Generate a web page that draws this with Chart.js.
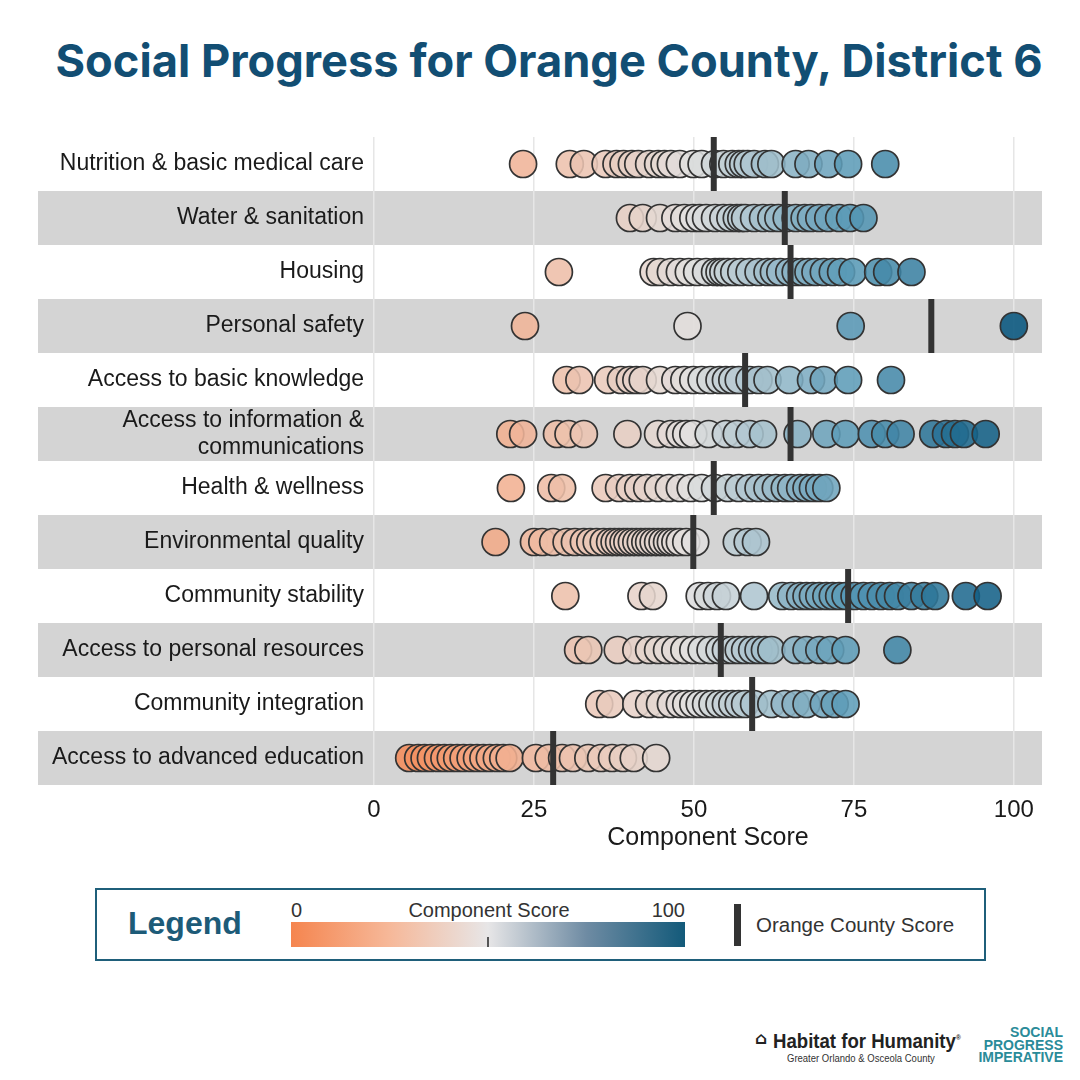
<!DOCTYPE html>
<html>
<head>
<meta charset="utf-8">
<title>Social Progress for Orange County, District 6</title>
<script src="https://cdn.jsdelivr.net/npm/chart.js@4.4.1/dist/chart.umd.min.js"></script>
<style>
  body { margin: 0; width: 1080px; height: 1080px; background: #fff; position: relative; overflow: hidden;
         font-family: "Liberation Sans", Arial, sans-serif; }
  #title { position: absolute; top: 33px; left: 9px; width: 1080px; text-align: center; line-height: 48px; }
  #title span { display: inline-block; font: 700 40px Inter, Roboto, sans-serif; color: #124e73; white-space: nowrap; }
  #wrap { position: absolute; left: 0; top: 0; width: 1080px; height: 870px; }
  #legend { position: absolute; left: 95px; top: 888px; width: 891px; height: 73px;
            border: 2px solid #1f5f7a; box-sizing: border-box; }
  #legend .lg { position: absolute; left: 31px; top: 15px; font: 700 32px "Liberation Sans Narrow", Arial, sans-serif; color: #1d5b78; }
  #legend .t { position: absolute; font-size: 20px; color: #333; }
  #legend .bar { position: absolute; left: 194px; top: 32px; width: 394px; height: 25px;
                 background: linear-gradient(to right, #f5854f 0%, #f6b899 25%, #e7e6e7 50%, #6e8ba3 75%, #135a7a 100%); }
  #legend .mid { position: absolute; left: 390px; top: 47px; width: 2px; height: 10px; background: #555; }
  #legend .oc { position: absolute; left: 637px; top: 14px; width: 7px; height: 42px; background: #333; }
  #logos { position: absolute; left: 740px; top: 1020px; width: 330px; height: 55px; }
  #logos .hab { position: absolute; left: 33px; top: 10px; font: 700 20px "Liberation Sans", Arial, sans-serif; color: #222;
                transform: scaleX(0.93); transform-origin: left top; white-space: nowrap; }
  #logos .sub { position: absolute; left: 47px; top: 33px; font: 10px "Liberation Sans", Arial, sans-serif; color: #333;
                transform: scaleX(0.95); transform-origin: left top; white-space: nowrap; }
  #logos .icon { position: absolute; left: 15px; top: 8px; font: 700 17px "DejaVu Sans", sans-serif; color: #222; }
  #logos .spi { position: absolute; right: 7px; top: 6px; font: 900 14px/12.5px "Liberation Sans", Arial, sans-serif; color: #2a8b99; text-align: right; }
</style>
</head>
<body>
<div id="title"><span>Social Progress for Orange County, District 6</span></div>
<div id="wrap"><canvas id="chart"></canvas></div>

<div id="legend">
  <div class="lg">Legend</div>
  <div class="t" style="left:194px;top:9px">0</div>
  <div class="t" style="left:292px;top:9px;width:200px;text-align:center">Component Score</div>
  <div class="t" style="left:488px;top:9px;width:100px;text-align:right">100</div>
  <div class="bar"></div>
  <div class="mid"></div>
  <div class="oc"></div>
  <div class="t" style="left:659px;top:23px;font-size:20.5px">Orange County Score</div>
</div>

<div id="logos">
  <div class="icon">⌂</div>
  <div class="hab">Habitat for Humanity<sup style="font-size:7px">®</sup></div>
  <div class="sub">Greater Orlando &amp; Osceola County</div>
  <div class="spi">SOCIAL<br>PROGRESS<br>IMPERATIVE</div>
</div>

<script>
// Rows (top to bottom)
const categories = [
    'Nutrition & basic medical care',
    'Water & sanitation',
    'Housing',
    'Personal safety',
    'Access to basic knowledge',
    ['Access to information &', 'communications'],
    'Health & wellness',
    'Environmental quality',
    'Community stability',
    'Access to personal resources',
    'Community integration',
    'Access to advanced education'
];

// Orange County score per row
const countyScores = [53.1, 64.2, 65.1, 87.1, 58.0, 65.1, 53.1, 49.9, 74.1, 54.2, 59.1, 28.0];

// Census tract component scores per row
const nutrition = [23.3, 30.6, 32.8, 36.2, 37.9, 39.0, 40.3, 41.3, 43.0, 44.4, 45.4, 46.4, 47.8, 49.9, 51.2, 53.3, 54.6, 56.0, 57.0, 57.7, 58.4, 59.4, 61.1, 62.1, 65.9, 67.9, 71.0, 74.1, 79.9];
const water = [40.0, 42.0, 44.7, 47.1, 48.5, 49.9, 50.9, 51.9, 53.3, 54.6, 55.7, 56.7, 57.4, 58.0, 59.4, 60.8, 62.1, 63.2, 64.5, 65.9, 67.3, 68.3, 69.6, 71.0, 72.7, 74.4, 76.5];
const housing = [28.9, 43.7, 44.7, 46.4, 47.8, 49.2, 50.5, 51.9, 53.3, 54.0, 54.6, 55.3, 56.3, 57.4, 58.7, 60.1, 61.5, 62.5, 63.5, 64.9, 65.9, 66.9, 67.9, 69.0, 70.3, 71.7, 73.0, 74.8, 78.8, 80.2, 84.0];
const safety = [23.6, 49.0, 74.5, 100];
const basicKnowledge = [30.1, 32.1, 36.6, 38.6, 40.0, 41.0, 42.0, 44.7, 47.1, 48.5, 49.9, 51.2, 52.6, 54.0, 55.0, 56.0, 57.0, 58.7, 60.1, 61.5, 64.9, 68.3, 70.3, 74.1, 80.8];
const information = [21.3, 23.3, 28.6, 30.4, 32.8, 39.6, 44.4, 46.4, 47.8, 48.8, 49.9, 52.3, 55.0, 56.7, 58.7, 60.8, 66.2, 70.7, 73.7, 77.8, 79.9, 82.3, 87.4, 89.4, 90.8, 92.2, 95.6];
const health = [21.4, 27.7, 29.4, 36.2, 38.3, 40.0, 41.3, 42.7, 44.4, 46.1, 47.8, 49.5, 51.2, 53.3, 55.3, 57.0, 58.7, 60.1, 61.5, 62.8, 64.2, 65.2, 66.6, 67.6, 68.6, 69.6, 70.7];
const environment = [19.0, 25.0, 26.3, 28.0, 30.1, 31.4, 32.8, 33.8, 34.8, 35.9, 36.9, 37.6, 38.3, 39.0, 39.6, 40.3, 41.0, 41.7, 42.4, 43.0, 43.7, 44.4, 45.1, 45.8, 46.4, 47.1, 47.8, 48.8, 50.2, 56.7, 58.4, 59.7];
const stability = [29.9, 41.8, 43.6, 50.9, 52.2, 53.6, 55.0, 59.4, 63.8, 65.2, 66.6, 67.6, 68.6, 69.6, 70.7, 71.7, 72.7, 73.7, 75.1, 76.5, 77.8, 79.2, 80.6, 81.9, 84.0, 86.0, 87.7, 92.5, 95.9];
const personalResources = [31.9, 33.5, 38.1, 41.0, 43.0, 44.4, 45.8, 47.1, 48.5, 49.9, 51.2, 52.6, 54.0, 55.0, 56.0, 57.0, 58.0, 59.1, 60.1, 61.1, 62.1, 65.9, 67.6, 69.6, 71.3, 73.7, 81.8];
const integration = [35.2, 36.9, 41.0, 43.0, 44.7, 46.4, 47.8, 48.8, 49.9, 50.9, 51.9, 52.9, 54.0, 55.0, 56.0, 57.0, 58.0, 59.4, 62.1, 64.2, 65.9, 67.6, 70.3, 72.0, 73.7];
const advancedEducation = [5.5, 6.9, 7.9, 8.9, 10.0, 11.0, 12.0, 13.0, 14.0, 15.1, 16.1, 17.1, 18.1, 19.2, 20.2, 21.2, 25.3, 27.3, 29.4, 31.1, 33.5, 35.5, 37.2, 38.9, 40.6, 44.1];

const rowScores = [nutrition, water, housing, safety, basicKnowledge, information, health,
    environment, stability, personalResources, integration, advancedEducation];

const xTicks = [0, 25, 50, 75, 100];

// Diverging colour scale for component scores
const colorStops = [
    [0, [245, 128, 72]],
    [25, [240, 184, 158]],
    [50, [226, 224, 223]],
    [75, [88, 153, 182]],
    [100, [8, 86, 126]]
];

function scoreColor(v, alpha) {
    let i = 0;
    while (i < colorStops.length - 2 && v > colorStops[i + 1][0]) i++;
    const [v0, c0] = colorStops[i];
    const [v1, c1] = colorStops[i + 1];
    const t = Math.max(0, Math.min(1, (v - v0) / (v1 - v0)));
    const c = c0.map((ch, k) => Math.round(ch + (c1[k] - ch) * t));
    return `rgba(${c[0]}, ${c[1]}, ${c[2]}, ${alpha})`;
}

// fit the title to the same width as in the original
function fitTitle() {
    const span = document.querySelector('#title span');
    span.style.fontSize = '40px';
    const w = span.getBoundingClientRect().width;
    if (w > 0) span.style.fontSize = (40 * 987 / w).toFixed(2) + 'px';
}
fitTitle();
document.fonts && document.fonts.ready.then(fitTitle);

const tractPoints = [];
rowScores.forEach((scores, row) => {
    scores.forEach(s => tractPoints.push({ x: s, y: row }));
});
const countyPoints = countyScores.map((s, row) => ({ x: s, y: row }));

// Alternating grey row bands, full width including the label column
const rowBands = {
    id: 'rowBands',
    beforeDraw(chart) {
        const { ctx, chartArea, scales } = chart;
        const y = scales.y;
        ctx.save();
        ctx.fillStyle = '#d4d4d4';
        categories.forEach((c, i) => {
            if (i % 2 === 1) {
                const top = y.getPixelForValue(i - 0.5);
                const bottom = y.getPixelForValue(i + 0.5);
                ctx.fillRect(y.left, top, chartArea.right - y.left, bottom - top);
            }
        });
        ctx.restore();
    }
};

const labelFont = '"Liberation Sans", Arial, sans-serif';

new Chart(document.getElementById('chart'), {
    type: 'scatter',
    data: {
        datasets: [
            {
                label: 'Orange County Score',
                data: countyPoints,
                order: 0,
                pointStyle: 'line',
                rotation: 90,
                pointRadius: 27,
                borderWidth: 6,
                borderColor: '#333333'
            },
            {
                label: 'Component Score',
                data: tractPoints,
                order: 1,
                pointRadius: 13.5,
                borderWidth: 1.7,
                borderColor: '#333333',
                backgroundColor: ctx => scoreColor(ctx.raw ? ctx.raw.x : 50, 0.88)
            }
        ]
    },
    options: {
        responsive: true,
        maintainAspectRatio: false,
        animation: false,
        events: [],
        layout: { padding: { left: 38, right: 38, top: 137, bottom: 0 } },
        plugins: {
            legend: { display: false },
            tooltip: { enabled: false }
        },
        scales: {
            x: {
                type: 'linear',
                min: 0,
                max: 104.4,
                afterBuildTicks: scale => { scale.ticks = xTicks.map(v => ({ value: v })); },
                afterFit: scale => { scale.height = 85; },
                grid: { color: '#e6e6e6', lineWidth: 1.5, drawTicks: false },
                border: { display: false },
                ticks: {
                    padding: 11,
                    color: '#1a1a1a',
                    font: { family: labelFont, size: 24 }
                },
                title: {
                    display: true,
                    text: 'Component Score',
                    color: '#1a1a1a',
                    padding: { top: 0, bottom: 17 },
                    font: { family: labelFont, size: 25 }
                }
            },
            y: {
                type: 'linear',
                reverse: true,
                min: -0.5,
                max: categories.length - 0.5,
                afterBuildTicks: scale => { scale.ticks = categories.map((c, i) => ({ value: i })); },
                afterFit: scale => { scale.width = 336; },
                grid: { display: false },
                border: { display: false },
                ticks: {
                    padding: 2,
                    color: '#1a1a1a',
                    autoSkip: false,
                    font: { family: labelFont, size: 23, lineHeight: 1.2 },
                    callback: value => categories[value]
                }
            }
        }
    },
    plugins: [rowBands]
});
</script>
</body>
</html>
